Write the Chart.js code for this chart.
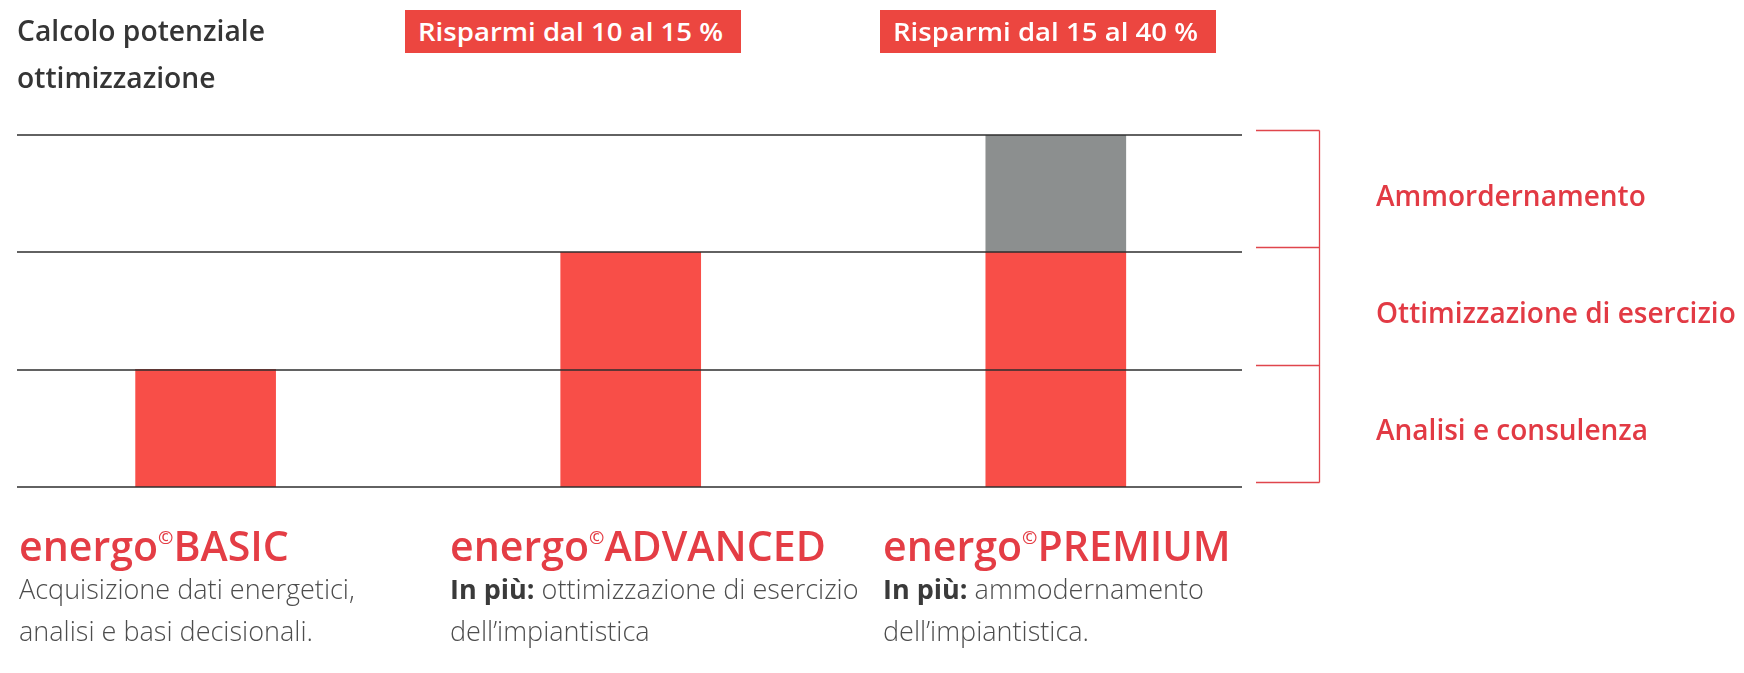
<!DOCTYPE html>
<html><head><meta charset="utf-8">
<script src="https://cdn.jsdelivr.net/npm/chart.js@4.4.0/dist/chart.umd.min.js"></script>
<style>
html,body{margin:0;padding:0;background:#fff;width:1744px;height:673px;overflow:hidden;}
#wrap{position:relative;width:1744px;height:673px;}
canvas{position:absolute;left:0;top:0;}
.t{position:absolute;white-space:nowrap;font-family:"Open Sans",sans-serif;line-height:1.25;transform:translateY(-50%);}
.title{color:#353535;font-weight:600;}
.box{position:absolute;background:#ec4640;color:#fff;font-family:"Open Sans",sans-serif;font-weight:600;white-space:nowrap;box-sizing:border-box;overflow:hidden;}
.box span{position:absolute;left:13px;top:50%;line-height:1;transform-origin:0 50%;}
.side{color:#e23a44;font-weight:600;}
.head{color:#e43d45;font-weight:600;}
.head sup{font-size:0.45em;vertical-align:0.95em;line-height:0;}
.desc{color:#4d4d4d;font-weight:300;}
.desc b{font-weight:700;color:#3a3a3a;}
</style></head>
<body><div id="wrap"><canvas id="c" width="1744" height="673"></canvas></div>
<script>
// ---- data ----
const brand = "energo";
const categories = ["BASIC", "ADVANCED", "PREMIUM"];
const categoryPositions = [0, 1, 2];
const seriesNames = ["Analisi e consulenza", "Ottimizzazione di esercizio", "Ammordernamento"];
const analisiValues = [1, 1, 1];
const ottimizzazioneValues = [0, 1, 1];
const ammodernamentoValues = [0, 0, 1];
const yTicks = [0, 1, 2, 3];
const titleLines = ["Calcolo potenziale", "ottimizzazione"];
const savingsLabels = ["Risparmi dal 10 al 15 %", "Risparmi dal 15 al 40 %"];
const descPrefix = ["", "In più:", "In più:"];
const descLine1 = ["Acquisizione dati energetici,", " ottimizzazione di esercizio", " ammodernamento"];
const descLine2 = ["analisi e basi decisionali.", "dell’impiantistica", "dell’impiantistica."];

// ---- layout ----
const wrap = document.getElementById('wrap');
function addText(cls, html, left, cy) {
  const d = document.createElement('div');
  d.className = 't ' + cls;
  d.innerHTML = html;
  d.style.left = left + 'px';
  d.style.top = cy + 'px';
  wrap.appendChild(d);
  return d;
}
function fitSize(cls, html, target) {
  const d = addText(cls, html, 0, -200);
  d.style.fontSize = '20px';
  const w = d.getBoundingClientRect().width;
  wrap.removeChild(d);
  return 20 * target / w;
}

const titleSize = fitSize('title', titleLines[0], 248);
titleLines.forEach((s, i) => { addText('title', s, 17, 31 + i * 47).style.fontSize = titleSize + 'px'; });

const boxLefts = [405, 880];
savingsLabels.forEach((s, i) => {
  const b = document.createElement('div');
  b.className = 'box';
  b.style.left = boxLefts[i] + 'px'; b.style.top = '10px';
  b.style.width = '336px'; b.style.height = '43px';
  b.style.fontSize = '25px';
  const sp = document.createElement('span'); sp.textContent = s; b.appendChild(sp);
  wrap.appendChild(b);
  const w = sp.getBoundingClientRect().width;
  sp.style.transform = 'translateY(-53%) scaleX(' + (305 / w).toFixed(4) + ')';
});

const headLefts = [19, 450, 883];
const headHtml = categories.map(c => brand + '<sup>©</sup>' + c);
const headSize = fitSize('head', headHtml[0], 270);
const descSize = fitSize('desc', descLine1[0], 336);
categories.forEach((c, i) => {
  addText('head', headHtml[i], headLefts[i], 546).style.fontSize = headSize + 'px';
  const l1 = (descPrefix[i] ? '<b>' + descPrefix[i] + '</b>' : '') + descLine1[i];
  addText('desc', l1, headLefts[i], 589).style.fontSize = descSize + 'px';
  addText('desc', descLine2[i], headLefts[i], 631).style.fontSize = descSize + 'px';
});

const sideSize = fitSize('side', seriesNames[1], 360);
const sideEls = seriesNames.map(s => { const e = addText('side', s, 1376, 0); e.style.fontSize = sideSize + 'px'; return e; });

// ---- chart ----
const overlay = {
  id: 'overlay',
  afterDatasetsDraw(chart) {
    const { ctx, chartArea: a, scales: { y } } = chart;
    ctx.save();
    ctx.strokeStyle = '#2e2e2e';
    ctx.lineWidth = 1.5;
    yTicks.forEach(v => {
      const py = Math.round(y.getPixelForValue(v));
      ctx.beginPath(); ctx.moveTo(a.left, py); ctx.lineTo(a.right, py); ctx.stroke();
    });
    // bracket
    ctx.strokeStyle = '#e0464c';
    ctx.lineWidth = 1.3;
    const bx0 = 1256, bx1 = 1319.5;
    const ys = yTicks.map(v => Math.round(y.getPixelForValue(v)) - 5 + 0.5);
    ctx.beginPath();
    ctx.moveTo(bx1, Math.min(...ys)); ctx.lineTo(bx1, Math.max(...ys));
    ys.forEach(py => { ctx.moveTo(bx0, py); ctx.lineTo(bx1, py); });
    ctx.stroke();
    ctx.restore();
  },
  afterRender(chart) {
    const y = chart.scales.y;
    sideEls[0].style.top = (y.getPixelForValue(0.5) + 2) + 'px';
    sideEls[1].style.top = (y.getPixelForValue(1.5) + 2) + 'px';
    sideEls[2].style.top = (y.getPixelForValue(2.5) + 2) + 'px';
  }
};

const mk = vals => categoryPositions.map((x, i) => ({ x: x, y: vals[i] }));
new Chart(document.getElementById('c'), {
  type: 'bar',
  data: {
    datasets: [
      { label: seriesNames[0], data: mk(analisiValues), backgroundColor: '#f84e48' },
      { label: seriesNames[1], data: mk(ottimizzazioneValues), backgroundColor: '#f84e48' },
      { label: seriesNames[2], data: mk(ammodernamentoValues), backgroundColor: '#8c8f8f' }
    ]
  },
  options: {
    responsive: false,
    animation: false,
    events: [],
    layout: { padding: { left: 17, right: 502, top: 135, bottom: 186 } },
    plugins: { legend: { display: false }, tooltip: { enabled: false } },
    datasets: { bar: { barThickness: 140, borderWidth: 0 } },
    scales: {
      x: { type: 'linear', stacked: true, display: false, offset: false, min: -0.4437, max: 2.438, grid: { offset: false } },
      y: { stacked: true, display: false, min: 0, max: 3 }
    }
  },
  plugins: [overlay]
});
</script>
</body></html>
